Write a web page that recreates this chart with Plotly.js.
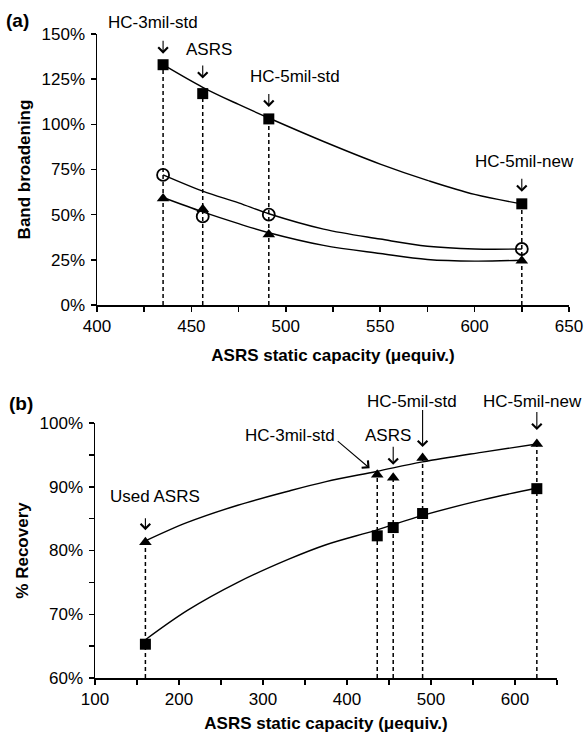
<!DOCTYPE html>
<html>
<head>
<meta charset="utf-8">
<script src="https://cdn.plot.ly/plotly-3.0.1.min.js"></script>
<style>
html,body{margin:0;padding:0;background:#fff;}
#chart{width:587px;height:738px;}
</style>
</head>
<body>
<div id="chart"></div>
<script>
// ---------- Panel (a) data ----------
const capA = [435, 456, 491, 625];
const labelsA = ["HC-3mil-std", "ASRS", "HC-5mil-std", "HC-5mil-new"];
const bandSquare = [133, 117, 103, 56];
const bandCircle = [72, 49, 50, 31];
const bandTriangle = [59, 53, 39, 24.5];
// trend curves
const trendA_x = [435, 456, 475, 491, 520, 550, 575, 600, 625];
const trendA_square = [133, 120.5, 111, 103.5, 90.5, 78, 69, 61.2, 56];
const trendA_circle = [72, 63, 56.5, 50.5, 42, 36.5, 32.5, 31, 31];
const trendA_triangle = [59.5, 51.5, 45, 40, 33, 28.5, 25.2, 24.3, 24.8];

// ---------- Panel (b) data ----------
const capB = [160, 436, 455, 490, 626];
const labelsB = ["Used ASRS", "HC-3mil-std", "ASRS", "HC-5mil-std", "HC-5mil-new"];
const recTriangle = [81.3, 91.9, 91.4, 94.5, 96.7];
const recSquare = [65.3, 82.3, 83.6, 85.8, 89.7];
const trendB_x = [160, 210, 270, 330, 375, 435, 490, 560, 626];
const trendB_triangle = [81.5, 84.4, 87.1, 89.3, 90.8, 92.4, 93.9, 95.4, 96.7];
const trendB_square = [66, 70.6, 75, 78.6, 80.9, 83.2, 85.5, 87.9, 89.8];

// ---------- styling / placement (pixels) ----------
const FONT = "Arial, 'Liberation Sans', sans-serif";
const labelOffA = [[-10, 42], [6, 44], [26, 42], [3, 42]];
const arrowA = [[0, -25, 11], [0, -29, 15], [0, -26, 12], [0, -26, 12]];
const labelOffB = [[10, 46], [-87, 39], [-5, 42], [-11, 57], [-4, 43]];
const arrowB = [[0, -25, 12], [-40, -34, 10], [0, -32, 13], [0, -49, 11], [0, -33, 14]];

function dropLines(xs, tops, base, xa, ya) {
  const x = [], y = [];
  xs.forEach((v, i) => { x.push(v, v, null); y.push(base, tops[i], null); });
  return {x, y, xaxis: xa, yaxis: ya, mode: 'lines', hoverinfo: 'skip',
          line: {color: 'black', width: 1.5, dash: '4px,3px'}};
}
function curve(xs, ys, xa, ya) {
  return {x: xs, y: ys, xaxis: xa, yaxis: ya, mode: 'lines', hoverinfo: 'skip',
          line: {color: 'black', width: 1.4, shape: 'spline', smoothing: 1}};
}
function markers(xs, ys, sym, xa, ya) {
  const open = sym.indexOf('open') >= 0;
  return {x: xs, y: ys, xaxis: xa, yaxis: ya, mode: 'markers', cliponaxis: false,
          marker: {symbol: sym, size: open ? 12 : 11, color: 'black',
                   line: {color: 'black', width: open ? 1.8 : 0}}};
}

const topA = capA.map((_, i) => Math.max(bandSquare[i], bandCircle[i], bandTriangle[i]));
const topB = capB.map((_, i) => Math.max(recTriangle[i], recSquare[i]));

const traces = [
  dropLines(capA, topA, 0, 'x', 'y'),
  curve(trendA_x, trendA_square, 'x', 'y'),
  curve(trendA_x, trendA_circle, 'x', 'y'),
  curve(trendA_x, trendA_triangle, 'x', 'y'),
  markers(capA, bandSquare, 'square', 'x', 'y'),
  markers(capA, bandCircle, 'circle-open', 'x', 'y'),
  markers(capA, bandTriangle, 'triangle-up', 'x', 'y'),
  dropLines(capB, topB, 60, 'x2', 'y2'),
  curve(trendB_x, trendB_triangle, 'x2', 'y2'),
  curve(trendB_x, trendB_square, 'x2', 'y2'),
  markers(capB, recSquare, 'square', 'x2', 'y2'),
  markers(capB, recTriangle, 'triangle-up', 'x2', 'y2')
];

const annotations = [];
function addLabels(xs, tops, labels, offs, arrows, xr, yr) {
  xs.forEach((v, i) => {
    annotations.push({x: v, y: tops[i], xref: xr, yref: yr, text: labels[i], showarrow: false,
      xshift: offs[i][0], yshift: offs[i][1], xanchor: 'center', yanchor: 'middle',
      font: {family: FONT, size: 17, color: 'black'}});
    annotations.push({x: v, y: tops[i], xref: xr, yref: yr, text: ' ', showarrow: true,
      font: {size: 1}, borderpad: 0,
      ax: arrows[i][0], ay: arrows[i][1], standoff: arrows[i][2],
      arrowhead: 4, arrowsize: 1.7, arrowwidth: 1.1, arrowcolor: 'black'});
  });
}
addLabels(capA, bandSquare, labelsA, labelOffA, arrowA, 'x', 'y');
addLabels(capB, recTriangle, labelsB, labelOffB, arrowB, 'x2', 'y2');

annotations.push({xref: 'paper', yref: 'paper', x: 17 / 587, y: 1 - 21 / 738, text: '<b>(a)</b>',
  showarrow: false, xanchor: 'center', yanchor: 'middle', font: {family: FONT, size: 19, color: 'black'}});
annotations.push({xref: 'paper', yref: 'paper', x: 21 / 587, y: 1 - 403 / 738, text: '<b>(b)</b>',
  showarrow: false, xanchor: 'center', yanchor: 'middle', font: {family: FONT, size: 19, color: 'black'}});

const axBase = {
  showgrid: false, zeroline: false, showline: true, linecolor: 'black', linewidth: 1.5,
  ticks: 'outside', ticklen: 5, tickwidth: 1.5, tickcolor: 'black',
  tickfont: {family: FONT, size: 17, color: 'black'}, fixedrange: true
};
const titleFont = {family: FONT, size: 17, color: 'black'};

const layout = {
  width: 587, height: 738,
  margin: {l: 0, r: 0, t: 0, b: 0},
  paper_bgcolor: 'white', plot_bgcolor: 'white',
  showlegend: false,
  font: {family: FONT, color: 'black'},
  xaxis: Object.assign({}, axBase, {
    domain: [97 / 587, 569 / 587], range: [400, 650], dtick: 50, tick0: 400, anchor: 'y',
    minor: {dtick: 25, ticks: 'outside', ticklen: 5, tickwidth: 1.5, tickcolor: 'black'},
    title: {text: '<b>ASRS static capacity (μequiv.)</b>', font: titleFont, standoff: 14}
  }),
  yaxis: Object.assign({}, axBase, {
    domain: [1 - 305 / 738, 1 - 34 / 738], range: [0, 150], dtick: 25, tick0: 0, ticksuffix: '%', anchor: 'x',
    ticklabelstandoff: 2,
    title: {text: '<b>Band broadening</b>', font: titleFont, standoff: 6}
  }),
  xaxis2: Object.assign({}, axBase, {
    domain: [95 / 587, 557 / 587], range: [100, 650], dtick: 100, tick0: 100, anchor: 'y2',
    minor: {dtick: 50, ticks: 'outside', ticklen: 5, tickwidth: 1.5, tickcolor: 'black'},
    title: {text: '<b>ASRS static capacity (μequiv.)</b>', font: titleFont, standoff: 9}
  }),
  yaxis2: Object.assign({}, axBase, {
    domain: [1 - 678 / 738, 1 - 423 / 738], range: [60, 100], dtick: 10, tick0: 60, ticksuffix: '%', anchor: 'x2',
    ticklabelstandoff: 2,
    minor: {dtick: 5, ticks: 'outside', ticklen: 5, tickwidth: 1.5, tickcolor: 'black'},
    title: {text: '<b>% Recovery</b>', font: titleFont, standoff: 6}
  }),
  annotations: annotations
};

Plotly.newPlot('chart', traces, layout, {displayModeBar: false, staticPlot: true});
</script>
</body>
</html>
